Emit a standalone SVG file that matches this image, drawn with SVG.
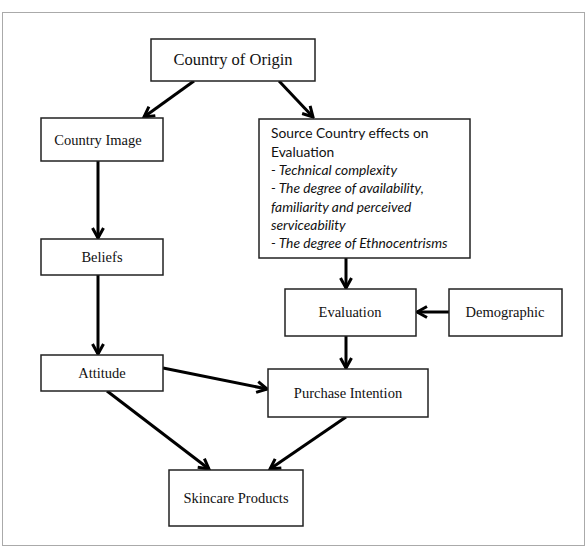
<svg xmlns="http://www.w3.org/2000/svg" width="587" height="548" viewBox="0 0 587 548">
<defs>
<style>
.box{fill:#fff;stroke:#222;stroke-width:1.5}
.t{font-family:"Liberation Serif","Times New Roman",serif;font-size:14.5px;fill:#111;text-anchor:middle}
.s{font-family:Lato,"Open Sans",sans-serif;font-size:13.8px;fill:#111}
.i{font-style:italic}
.c{stroke:#000;stroke-width:3;fill:none;marker-end:url(#ah)}
</style>
<marker id="ah" markerUnits="userSpaceOnUse" viewBox="0 0 14 14" refX="12" refY="7" markerWidth="14" markerHeight="14" orient="auto">
<path d="M2,1.5 L12,7 L2,12.5" fill="none" stroke="#000" stroke-width="3"/>
</marker>
</defs>
<rect x="2.5" y="12.5" width="582" height="533" fill="#fff" stroke="#555" stroke-width="1" stroke-dasharray="1,1"/>
<g id="connectors">
<line class="c" x1="194" y1="81" x2="144" y2="117"/>
<line class="c" x1="279" y1="81" x2="313" y2="117"/>
<line class="c" x1="98" y1="161" x2="98" y2="238"/>
<line class="c" x1="98" y1="275" x2="98" y2="354"/>
<line class="c" x1="346" y1="258" x2="346" y2="288"/>
<line class="c" x1="449" y1="312" x2="417" y2="312"/>
<line class="c" x1="346" y1="336" x2="346" y2="368"/>
<line class="c" x1="163" y1="368" x2="267" y2="389"/>
<line class="c" x1="107" y1="391" x2="209" y2="469"/>
<line class="c" x1="346" y1="417" x2="270" y2="469"/>
</g>
<g id="country-of-origin"><rect class="box" x="151" y="39" width="164" height="42"/><text class="t" x="233" y="65" style="font-size:16.5px">Country of Origin</text></g>
<g id="country-image"><rect class="box" x="41" y="118" width="122" height="43"/><text class="t" x="98" y="145">Country Image</text></g>
<g id="source-country"><rect class="box" x="259" y="119" width="211" height="139"/>
<text class="s" x="271"><tspan x="271" y="138">Source Country effects on</tspan><tspan x="271" y="157">Evaluation</tspan><tspan class="i" x="271" y="175">- Technical complexity</tspan><tspan class="i" x="271" y="193">- The degree of availability,</tspan><tspan class="i" x="271" y="212">familiarity and perceived</tspan><tspan class="i" x="271" y="230">serviceability</tspan><tspan class="i" x="271" y="248">- The degree of Ethnocentrisms</tspan></text></g>
<g id="beliefs"><rect class="box" x="41" y="239" width="122" height="36"/><text class="t" x="102" y="262">Beliefs</text></g>
<g id="evaluation"><rect class="box" x="285" y="289" width="131" height="47"/><text class="t" x="350" y="317">Evaluation</text></g>
<g id="demographic"><rect class="box" x="449" y="289" width="113" height="47"/><text class="t" x="505" y="317">Demographic</text></g>
<g id="attitude"><rect class="box" x="41" y="355" width="122" height="36"/><text class="t" x="102" y="378">Attitude</text></g>
<g id="purchase-intention"><rect class="box" x="268" y="369" width="160" height="48"/><text class="t" x="348" y="398">Purchase Intention</text></g>
<g id="skincare-products"><rect class="box" x="169" y="470" width="134" height="56"/><text class="t" x="236" y="503">Skincare Products</text></g>
</svg>
